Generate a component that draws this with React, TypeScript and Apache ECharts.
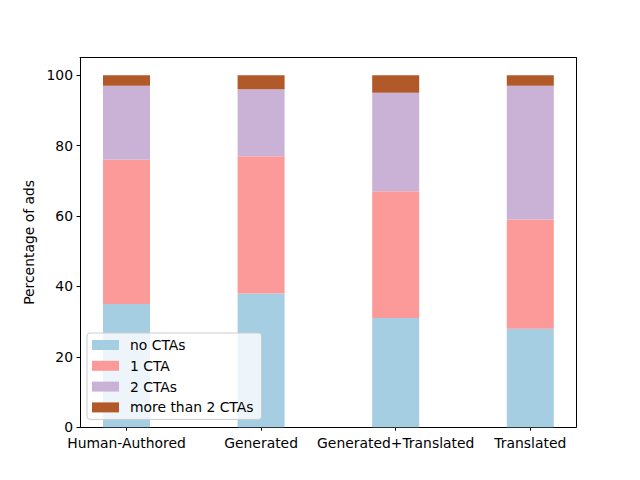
import React, { useEffect, useRef } from "react";
import * as echarts from "echarts";

const categories = ["Human-Authored", "Generated", "Generated+Translated", "Translated"];
const seriesNames = ["no CTAs", "1 CTA", "2 CTAs", "more than 2 CTAs"];
const noCTAs = [35, 38, 31, 28];
const oneCTA = [41, 39, 36, 31];
const twoCTAs = [21, 19, 28, 38];
const moreThanTwo = [3, 4, 5, 3];
const yTicks = [0, 20, 40, 60, 80, 100];
const colors = ["#a6cee3", "#fb9a99", "#cab2d6", "#b15928"];

const FONT = "DejaVu Sans";
const FS = 13.9;

export default function App() {
  const ref = useRef<HTMLDivElement>(null);
  useEffect(() => {
    if (!ref.current) return;
    const chart = echarts.init(ref.current, null, { renderer: "svg" });
    const allSeries = [noCTAs, oneCTA, twoCTAs, moreThanTwo];
    const spine = { show: true, onZero: false, lineStyle: { color: "#000", width: 1 } };
    chart.setOption({
      animation: false,
      grid: [
        { left: 80, right: 64, top: 57.6, bottom: 52.8, containLabel: false },
        { left: 59.2, right: 42.4, top: 57.6, bottom: 52.8, containLabel: false },
      ],
      legend: {
        orient: "vertical",
        left: 87,
        top: 333,
        data: seriesNames,
        icon: "rect",
        itemWidth: 27,
        itemHeight: 10,
        itemGap: 6.8,
        padding: [5, 8, 5, 5],
        backgroundColor: "rgba(255,255,255,0.8)",
        borderColor: "#cccccc",
        borderWidth: 1,
        borderRadius: 3,
        textStyle: { fontFamily: FONT, fontSize: FS, color: "#000", lineHeight: 14, padding: [0, 0, 0, 6] },
      },
      xAxis: [
        {
          type: "value",
          gridIndex: 0,
          min: 0,
          max: 1,
          splitLine: { show: false },
          axisLine: spine,
          axisTick: { show: false },
          axisLabel: { show: false },
        },
        {
          type: "value",
          gridIndex: 0,
          position: "top",
          min: 0,
          max: 1,
          splitLine: { show: false },
          axisLine: spine,
          axisTick: { show: false },
          axisLabel: { show: false },
        },
        {
          type: "category",
          gridIndex: 1,
          data: categories,
          boundaryGap: true,
          axisLine: { show: false },
          axisTick: { show: true, alignWithLabel: true, length: 3.5, lineStyle: { color: "#000" } },
          axisLabel: { fontFamily: FONT, fontSize: FS, color: "#000", margin: 9, interval: 0 },
          splitLine: { show: false },
        },
      ],
      yAxis: [
        {
          type: "value",
          gridIndex: 0,
          min: 0,
          max: 105,
          name: "Percentage of ads",
          nameLocation: "middle",
          nameGap: 43,
          nameTextStyle: { fontFamily: FONT, fontSize: FS, color: "#000" },
          splitLine: { show: false },
          axisLine: spine,
          axisTick: { show: true, customValues: yTicks, length: 3.5, lineStyle: { color: "#000" } },
          axisLabel: { customValues: yTicks, fontFamily: FONT, fontSize: FS, color: "#000", margin: 7 },
        },
        {
          type: "value",
          gridIndex: 0,
          position: "right",
          min: 0,
          max: 105,
          splitLine: { show: false },
          axisLine: spine,
          axisTick: { show: false },
          axisLabel: { show: false },
        },
        {
          type: "value",
          gridIndex: 1,
          min: 0,
          max: 105,
          show: false,
        },
      ],
      series: allSeries.map((vals, s) => ({
        type: "bar",
        name: seriesNames[s],
        stack: "total",
        xAxisIndex: 2,
        yAxisIndex: 2,
        barWidth: 47,
        itemStyle: { color: colors[s] },
        data: vals,
      })),
    });
    return () => chart.dispose();
  }, []);
  return (
    <div
      ref={ref}
      style={{ position: "fixed", left: 0, top: 0, width: 640, height: 480, background: "#fff" }}
    />
  );
}
